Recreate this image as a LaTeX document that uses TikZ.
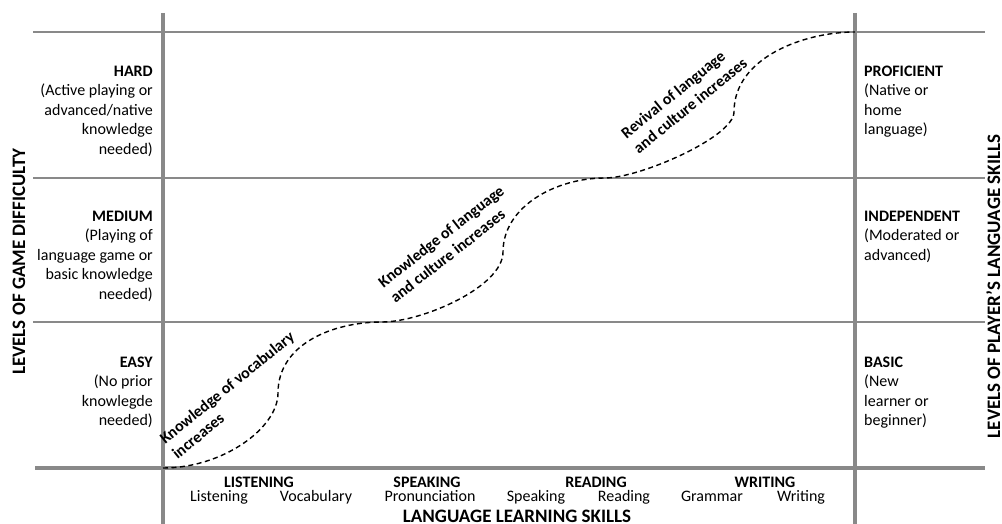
\documentclass[tikz,border=0pt]{standalone}
\usepackage{fontspec}
\setmainfont{Carlito}
\definecolor{axisgray}{RGB}{137,137,137}

\begin{document}
\begin{tikzpicture}[x=1pt,y=-1pt,
		axis line/.style={draw=axisgray,line width=3.5pt},
		grid line/.style={draw=axisgray,line width=1.6pt},
		trend line/.style={line width=1.4pt,dash pattern=on 5pt off 3.5pt},
		level node/.style={inner sep=0pt,font=\fontsize{16}{19.5}\selectfont},
		trend node/.style={inner sep=0pt,align=left,font=\bfseries\fontsize{16}{19.5}\selectfont},
		head node/.style={inner sep=0pt,anchor=base,font=\bfseries\fontsize{16}{19.5}\selectfont},
		skill node/.style={inner sep=0pt,anchor=base,font=\fontsize{16}{19.5}\selectfont},
		title node/.style={inner sep=0pt,anchor=base,font=\bfseries\fontsize{19}{23}\selectfont}]
	\useasboundingbox (0,0) rectangle (1002,524);
	%
	% Grid of difficulty levels and the two axes.
	\draw[grid line] (33,32) -- (985,32);
	\draw[grid line] (33,178) -- (985,178);
	\draw[grid line] (33,322) -- (985,322);
	\draw[axis line] (35,468) -- (985,468);
	\draw[axis line] (163,13) -- (163,524);
	\draw[axis line] (855,13) -- (855,524);
	%
	% Dashed growth curve, one S per level.
	\coordinate (l0) at (163,468);
	\coordinate (m1) at (278,393);
	\coordinate (l1) at (382,322);
	\coordinate (m2) at (503,252);
	\coordinate (l2) at (605,178);
	\coordinate (m3) at (734,112);
	\coordinate (l3) at (855,32);
	\draw[trend line] (l0) .. controls +(60,0) and +(0,35) .. (m1)
		.. controls +(0,-49) and +(-49,0) .. (l1)
		.. controls +(40,0) and +(0,35) .. (m2)
		.. controls +(0,-45) and +(-50,0) .. (l2)
		.. controls +(35,0) and +(0,25) .. (m3)
		.. controls +(0,-55) and +(-50,0) .. (l3);
	\node[trend node,rotate=39] (vocab) at (233,395) {Knowledge of vocabulary\\increases};
	\node[trend node,rotate=38] (culture) at (447,244) {Knowledge of language\\and culture increases};
	\node[trend node,rotate=39] (revival) at (684,98) {Revival of language\\and culture increases};
	%
	% Levels of game difficulty.
	\node[level node,anchor=north east,align=right] (hard) at (153,65.5)
		{\textbf{HARD}\\(Active playing or\\advanced/native\\knowledge\\needed)};
	\node[level node,anchor=north east,align=right] (medium) at (153,210.5)
		{\textbf{MEDIUM}\\(Playing of\\language game or\\basic knowledge\\needed)};
	\node[level node,anchor=north east,align=right] (easy) at (153,356.5)
		{\textbf{EASY}\\(No prior\\knowlegde\\needed)};
	%
	% Levels of player's language skills.
	\node[level node,anchor=north west,align=left] (proficient) at (864,65.5)
		{\textbf{PROFICIENT}\\(Native or\\home\\language)};
	\node[level node,anchor=north west,align=left] (independent) at (864,210.5)
		{\textbf{INDEPENDENT}\\(Moderated or\\advanced)};
	\node[level node,anchor=north west,align=left] (basic) at (864,356.5)
		{\textbf{BASIC}\\(New\\learner or\\beginner)};
	%
	% Language learning skills.
	\node[head node] (listening) at (259,487) {LISTENING};
	\node[head node] (speaking) at (427,487) {SPEAKING};
	\node[head node] (reading) at (596,487) {READING};
	\node[head node] (writing) at (765,487) {WRITING};
	\node[skill node] (s1) at (219,501) {Listening};
	\node[skill node] (s2) at (316,501) {Vocabulary};
	\node[skill node] (s3) at (430,501) {Pronunciation};
	\node[skill node] (s4) at (536,501) {Speaking};
	\node[skill node] (s5) at (624,501) {Reading};
	\node[skill node] (s6) at (712,501) {Grammar};
	\node[skill node] (s7) at (801,501) {Writing};
	%
	% Axis titles.
	\node[title node] (skills) at (517,522) {LANGUAGE LEARNING SKILLS};
	\node[title node,rotate=90] (difficulty) at (25,261.5) {LEVELS OF GAME DIFFICULTY};
	\node[title node,rotate=90] (player) at (1000,286.5) {LEVELS OF PLAYER’S LANGUAGE SKILLS};
\end{tikzpicture}
\end{document}
